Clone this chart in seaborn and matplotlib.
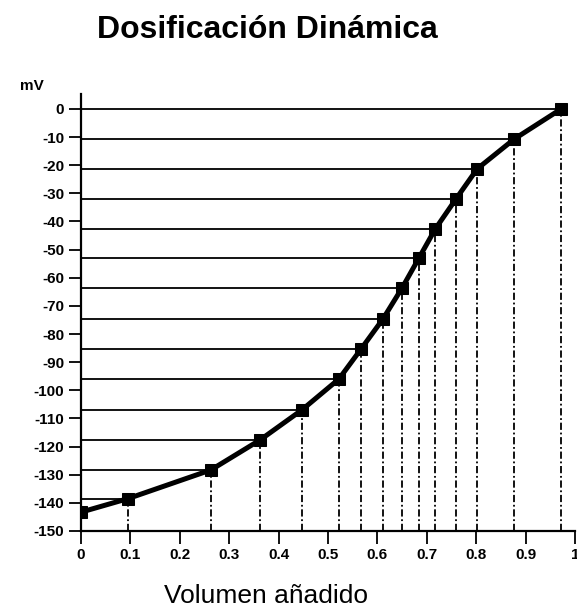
import matplotlib
matplotlib.use("Agg")
import matplotlib.pyplot as plt
import seaborn as sns
import pandas as pd

# Titration curve: added volume vs. potential (mV)
volumen = [0.0, 0.095, 0.263, 0.362, 0.447, 0.522, 0.567, 0.611, 0.650,
           0.684, 0.717, 0.759, 0.802, 0.877, 0.972]
potencial = [-143.3, -138.5, -128.3, -117.7, -107.0, -96.0, -85.3, -74.7,
             -63.6, -53.0, -42.7, -32.0, -21.3, -10.7, 0.0]

y_ticks = [0, -10, -20, -30, -40, -50, -60, -70, -80, -90, -100, -110,
           -120, -130, -140, -150]
x_ticks = [0, 0.1, 0.2, 0.3, 0.4, 0.5, 0.6, 0.7, 0.8, 0.9, 1.0]
x_labels = ["0", "0.1", "0.2", "0.3", "0.4", "0.5", "0.6", "0.7", "0.8", "0.9", "1"]

df = pd.DataFrame({"volumen": volumen, "potencial": potencial})

sns.set_style("ticks")
plt.rcParams["font.family"] = ["Liberation Sans", "DejaVu Sans"]
plt.rcParams["text.color"] = "black"
plt.rcParams["xtick.color"] = "black"
plt.rcParams["ytick.color"] = "black"

fig = plt.figure(figsize=(5.77, 6.16), dpi=100)
ax = fig.add_axes([0.1404, 0.138, 0.8562, 0.7094])

y_min, y_max = -150, 5.3

# guide lines from each point to both axes
ax.hlines(df["potencial"][1:], 0, df["volumen"][1:], color="black", lw=1.3, zorder=1)
ax.vlines(df["volumen"][1:], y_min, df["potencial"][1:], color="black", lw=1.3,
          linestyles=(0, (4, 1.5, 1, 1.5)), zorder=1)

sns.lineplot(data=df, x="volumen", y="potencial", ax=ax, color="black", lw=3.6,
             marker="s", markersize=9, markeredgecolor="black", zorder=3)

ax.set_xlim(0, 1.0)
ax.set_ylim(y_min, y_max)
ax.set_xticks(x_ticks)
ax.set_xticklabels(x_labels)
ax.set_yticks(y_ticks)
ax.set_yticklabels([str(v) for v in y_ticks])
ax.tick_params(axis="both", direction="out", length=9, width=1.3, color="black",
               labelcolor="black", labelsize=11, pad=3)
for lbl in ax.get_xticklabels() + ax.get_yticklabels():
    lbl.set_fontweight("bold")
ax.set_xlabel("")
ax.set_ylabel("")
sns.despine(ax=ax)
for s in ("left", "bottom"):
    ax.spines[s].set_linewidth(1.6)
    ax.spines[s].set_color("black")

fig.text(0.4636, 0.951, "Dosificación Dinámica", ha="center", va="center",
         fontsize=23, fontweight="bold")
fig.text(0.461, 0.032, "Volumen añadido", ha="center", va="center", fontsize=19)
fig.text(0.055, 0.86, "mV", ha="center", va="center", fontsize=11,
         fontweight="bold")

fig.savefig("out.png", dpi=100)
